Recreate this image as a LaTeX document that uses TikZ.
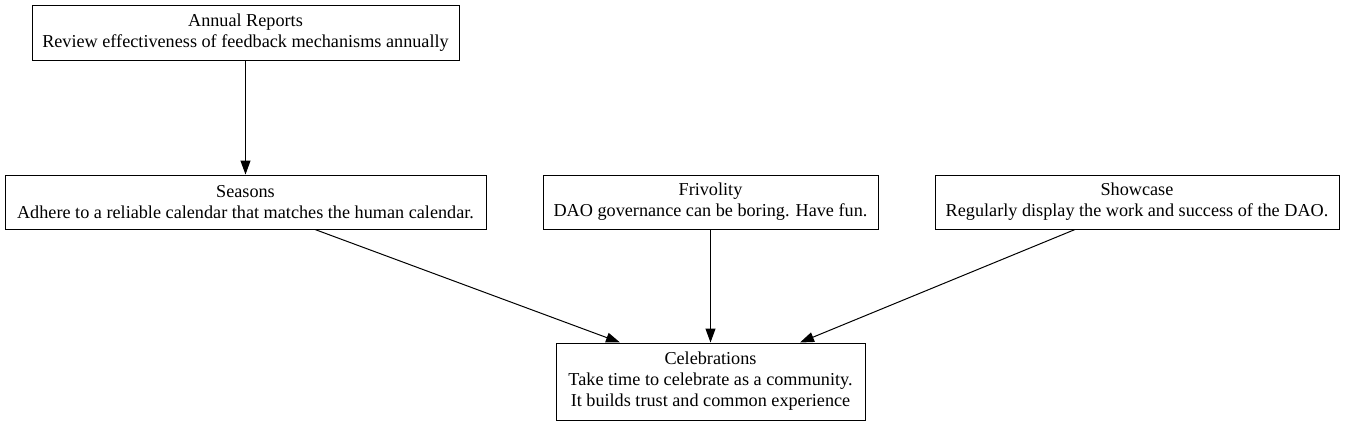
\documentclass[tikz,border=0pt]{standalone}
\usepackage{fontspec}
\setmainfont{Liberation Serif}
\usetikzlibrary{arrows.meta}
\begin{document}
\begin{tikzpicture}[x=1pt,y=-1pt,
  box/.style={draw,line width=1pt,rectangle,align=center,inner sep=0pt,
    font=\fontsize{18.2}{21}\selectfont},
  arr/.style={draw,line width=1pt,-{Triangle[length=14pt,width=10pt]}}]
\useasboundingbox (0,0) rectangle (1345,426);
\node[box,minimum width=427pt,minimum height=55pt] (ann) at (245.5,32.5) {Annual Reports\\Review effectiveness of feedback mechanisms annually};
\node[box,minimum width=481pt,minimum height=54pt] (sea) at (245.5,202) {Seasons\\Adhere to a reliable calendar that matches the human calendar.};
\node[box,minimum width=335pt,minimum height=54pt] (fri) at (710.5,202) {Frivolity\\DAO governance can be boring. Have fun.};
\node[box,minimum width=404pt,minimum height=54pt] (sho) at (1137,202) {Showcase\\Regularly display the work and success of the DAO.};
\node[box,minimum width=309pt,minimum height=77pt] (cel) at (710.5,381.5) {Celebrations\\Take time to celebrate as a community.\\ It builds trust and common experience};
\draw[arr] (ann.south) -- (sea.north);
\draw[arr] ([xshift=69.5pt]sea.south) -- ([xshift=-90.5pt]cel.north);
\draw[arr] (fri.south) -- (cel.north);
\draw[arr] ([xshift=-62pt]sho.south) -- ([xshift=89.5pt]cel.north);
\end{tikzpicture}
\end{document}
